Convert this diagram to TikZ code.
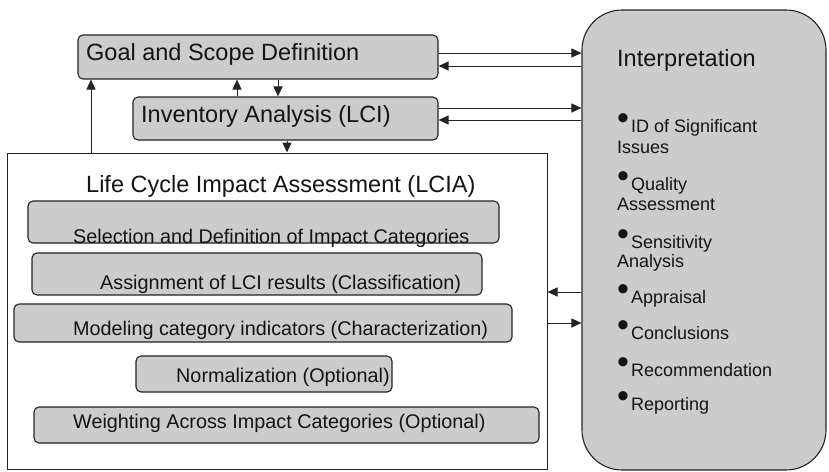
\documentclass[tikz,border=0pt]{standalone}
\usepackage{fontspec}
\setmainfont{Liberation Sans}
\usetikzlibrary{arrows.meta,calc}
\definecolor{boxgray}{RGB}{204,204,204}
\definecolor{linegray}{RGB}{35,35,35}
\tikzset{
  gbox/.style={draw=linegray, line width=1.1pt, fill=boxgray, rounded corners=5pt, inner sep=0pt},
  obox/.style={draw=linegray, line width=1pt, fill=white, inner sep=0pt},
  ibox/.style={draw=linegray, line width=1.1pt, fill=boxgray, rounded corners=40pt, inner sep=0pt},
  bigtxt/.style={anchor=base west, inner sep=0pt, font=\fontsize{23.5}{24}\selectfont, text=black!92},
  midtxt/.style={anchor=base west, inner sep=0pt, font=\fontsize{19.8}{20}\selectfont, text=black!92},
  smalltxt/.style={anchor=base west, inner sep=0pt, font=\fontsize{18}{18}\selectfont, text=black!92},
  arr/.style={draw=linegray, line width=1pt, -{Triangle[length=10pt,width=9pt]}},
}
\newcommand{\bul}{\raisebox{3pt}{\fontsize{34}{34}\selectfont •}\hspace{2pt}}
\begin{document}
\begin{tikzpicture}[x=1pt,y=-1pt]
\useasboundingbox (0,0) rectangle (829,471);
% main boxes
\node[gbox, minimum width=360pt, minimum height=44pt] (goal) at (258,57) {};
\node[gbox, minimum width=305pt, minimum height=43pt] (inv) at (285.5,118.5) {};
\node[obox, minimum width=540pt, minimum height=316pt] (lcia) at (277,311) {};
\node[ibox, minimum width=244pt, minimum height=460pt] (interp) at (704,240) {};
% LCIA inner boxes
\node[gbox, minimum width=471pt, minimum height=42pt] (b1) at (263.5,222) {};
\node[gbox, minimum width=450pt, minimum height=42pt] (b2) at (257,274) {};
\node[gbox, minimum width=498pt, minimum height=38pt] (b3) at (263,323) {};
\node[gbox, minimum width=256pt, minimum height=36pt] (b4) at (264,374) {};
\node[gbox, minimum width=505pt, minimum height=36pt] (b5) at (286.5,425) {};
% texts
\node[bigtxt] (tgoal) at (86,60) {Goal and Scope Definition};
\node[bigtxt] (tinv) at (141,122) {Inventory Analysis (LCI)};
\node[bigtxt] (tlcia) at (86,192) {Life Cycle Impact Assessment (LCIA)};
\node[midtxt] (t1) at (73,243) {Selection and Definition of Impact Categories};
\node[midtxt] (t2) at (100,289) {Assignment of LCI results (Classification)};
\node[midtxt] (t3) at (73,335) {Modeling category indicators (Characterization)};
\node[midtxt] (t4) at (176,382) {Normalization (Optional)};
\node[midtxt] (t5) at (73,428) {Weighting Across Impact Categories (Optional)};
\node[bigtxt] (tint) at (617,66) {Interpretation};
\node[smalltxt] (i1a) at (617,132) {\bul ID of Significant};
\node[smalltxt] (i1b) at (617,153) {Issues};
\node[smalltxt] (i2a) at (617,190) {\bul Quality};
\node[smalltxt] (i2b) at (617,210) {Assessment};
\node[smalltxt] (i3a) at (617,248) {\bul Sensitivity};
\node[smalltxt] (i3b) at (617,267) {Analysis};
\node[smalltxt] (i4) at (617,303) {\bul Appraisal};
\node[smalltxt] (i5) at (617,339) {\bul Conclusions};
\node[smalltxt] (i6) at (617,376) {\bul Recommendation};
\node[smalltxt] (i7) at (617,410) {\bul Reporting};
% connectors to/from interpretation
\coordinate (g1) at ([yshift=4pt]goal.east);
\coordinate (g2) at ([yshift=-9pt]goal.east);
\draw[arr] (g1) -- (interp.west |- g1);
\draw[arr] (interp.west |- g2) -- (g2);
\coordinate (v1) at ([yshift=10.5pt]inv.east);
\coordinate (v2) at ([yshift=-1.5pt]inv.east);
\draw[arr] (v1) -- (interp.west |- v1);
\draw[arr] (interp.west |- v2) -- (v2);
\coordinate (l1) at ([yshift=19pt]lcia.east);
\coordinate (l2) at ([yshift=-12pt]lcia.east);
\draw[arr] (interp.west |- l1) -- (l1);
\draw[arr] (l2) -- (interp.west |- l2);
% vertical connectors
\coordinate (up1) at ([xshift=-48.5pt]inv.north);
\draw[arr] (up1) -- (goal.south -| up1);
\coordinate (dn1) at ([xshift=20pt]goal.south);
\draw[arr] (dn1) -- (inv.north -| dn1);
\coordinate (dn2) at ([xshift=1.5pt]inv.south);
\draw[arr] (dn2) -- (lcia.north -| dn2);
\coordinate (up2) at ([xshift=-186pt]lcia.north);
\draw[arr] (up2) -- (goal.south -| up2);
\end{tikzpicture}
\end{document}
